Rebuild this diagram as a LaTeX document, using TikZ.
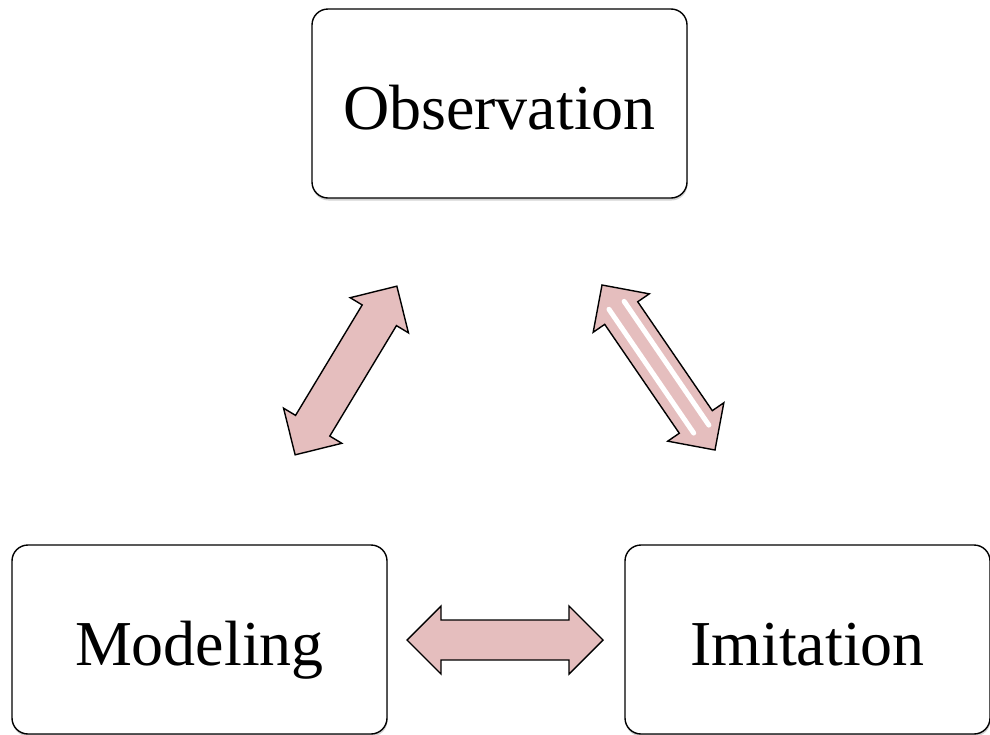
\documentclass[tikz,border=0pt]{standalone}
\usepackage{fontspec}
\setmainfont{Liberation Serif}
\usetikzlibrary{shadows}
\definecolor{arrowpink}{RGB}{229,190,190}
\tikzset{
  box/.style={draw=black, line width=1.4pt, rounded corners=16pt, fill=white,
    drop shadow={shadow xshift=0.5pt, shadow yshift=-2.5pt, opacity=0.35},
    font=\fontsize{64}{70}\selectfont, inner sep=0pt, text height=52pt, text depth=0pt},
  pinkarrow/.style={draw=black, line width=1.4pt, fill=arrowpink, line join=miter},
  stripe/.style={white, line width=5pt, line cap=round}
}
\begin{document}
\begin{tikzpicture}[x=1pt,y=-1pt]
\useasboundingbox (0,0) rectangle (990,734);
% boxes
\node[box, minimum width=375pt, minimum height=189pt] (obs) at (499.5,103.5) {Observation};
\node[box, minimum width=375pt, minimum height=189pt] (mod) at (199.5,639.5) {Modeling};
\node[box, minimum width=365pt, minimum height=189pt] (imi) at (807.5,639.5) {Imitation};
% arrows
\begin{scope}[shift={(346,370.5)}, rotate=58.9]
  \path[pinkarrow] (-98.5,0) -- (-64.5,34) -- (-64.5,20) -- (64.5,20) -- (64.5,34) -- (98.5,0)
    -- (64.5,-34) -- (64.5,-20) -- (-64.5,-20) -- (-64.5,-34) -- cycle;
  \coordinate (la) at (0,0);
\end{scope}
\begin{scope}[shift={(658.5,367.5)}, rotate=-55.6]
  \path[pinkarrow] (-100,0) -- (-66,34) -- (-66,20) -- (66,20) -- (66,34) -- (100,0)
    -- (66,-34) -- (66,-20) -- (-66,-20) -- (-66,-34) -- cycle;
  \draw[stripe] (-76,8) -- (74,8);
  \draw[stripe] (-74,-9) -- (76,-9);
  \coordinate (ra) at (0,0);
\end{scope}
\begin{scope}[shift={(505,640)}]
  \path[pinkarrow] (-98,0) -- (-64,-34) -- (-64,-20) -- (64,-20) -- (64,-34) -- (98,0)
    -- (64,34) -- (64,20) -- (-64,20) -- (-64,34) -- cycle;
  \coordinate (ha) at (0,0);
\end{scope}
\end{tikzpicture}
\end{document}
